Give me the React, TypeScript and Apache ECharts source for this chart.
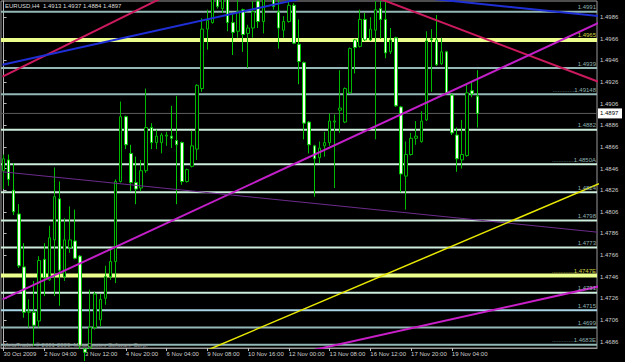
import React, { useEffect, useRef } from "react";
import * as echarts from "echarts";

// ---------- data ----------
const symbolName = "EURUSD,H4";
const timeLabels = [
  "30 Oct 2009", "2 Nov 04:00", "3 Nov 12:00", "4 Nov 20:00", "6 Nov 04:00", "9 Nov 08:00",
  "10 Nov 16:00", "12 Nov 00:00", "13 Nov 08:00", "16 Nov 12:00", "17 Nov 20:00", "19 Nov 04:00",
];
const labelEvery = 8; // bars between time labels
const totalSlots = 117; // bars + chart shift space

const opens = [
  1.4844, 1.4854, 1.4826, 1.4804, 1.4755, 1.4713, 1.4713, 1.4705, 1.4762, 1.4743,
  1.4780, 1.4818, 1.4746, 1.4773, 1.4779, 1.4765, 1.4679, 1.4680, 1.4699, 1.4706,
  1.4726, 1.4746, 1.4760, 1.4834, 1.4894, 1.4860, 1.4833, 1.4828, 1.4844, 1.4884,
  1.4870, 1.4870, 1.4876, 1.4876, 1.4872, 1.4870, 1.4834, 1.4848, 1.4864, 1.4920,
  1.4975, 1.4981, 1.5007, 1.4994, 1.5005, 1.4981, 1.4973, 1.4993, 1.4971, 1.4976,
  1.5001, 1.4982, 1.5004, 1.5008, 1.4991, 1.4974, 1.4982, 1.4997, 1.4961, 1.4944,
  1.4889, 1.4867, 1.4856, 1.4867, 1.4870, 1.4889, 1.4900, 1.4889, 1.4916, 1.4965,
  1.4959, 1.4984, 1.4965, 1.4974, 1.4994, 1.4984, 1.4954, 1.4967, 1.4903, 1.4839,
  1.4859, 1.4874, 1.4871, 1.4891, 1.4965, 1.4965, 1.4943, 1.4954, 1.4914, 1.4877,
  1.4854, 1.4858, 1.4918, 1.4913,
];
const highs = [
  1.4859, 1.4859, 1.4851, 1.4813, 1.4777, 1.4725, 1.4742, 1.4765, 1.4777, 1.4793,
  1.4847, 1.4834, 1.4800, 1.4811, 1.4808, 1.4766, 1.4680, 1.4734, 1.4732, 1.4730,
  1.4756, 1.4771, 1.4836, 1.4908, 1.4895, 1.4868, 1.4857, 1.4854, 1.4920, 1.4888,
  1.4882, 1.4879, 1.4880, 1.4904, 1.4913, 1.4871, 1.4846, 1.4881, 1.4924, 1.4985,
  1.4993, 1.5010, 1.5008, 1.5008, 1.5007, 1.4990, 1.5002, 1.4994, 1.4979, 1.5001,
  1.5005, 1.5008, 1.5012, 1.5010, 1.5002, 1.4987, 1.5002, 1.4999, 1.4984, 1.4945,
  1.4890, 1.4868, 1.4871, 1.4880, 1.4897, 1.4896, 1.4937, 1.4921, 1.4958, 1.4966,
  1.4993, 1.4990, 1.4986, 1.5001, 1.5001, 1.5001, 1.4976, 1.4968, 1.4904, 1.4871,
  1.4879, 1.4890, 1.4899, 1.4973, 1.4975, 1.4988, 1.4967, 1.4955, 1.4915, 1.4884,
  1.4891, 1.4925, 1.4927, 1.4937,
];
const lows = [
  1.4827, 1.4830, 1.4803, 1.4754, 1.4708, 1.4699, 1.4682, 1.4699, 1.4728, 1.4742,
  1.4728, 1.4719, 1.4742, 1.4768, 1.4762, 1.4679, 1.4668, 1.4679, 1.4697, 1.4700,
  1.4720, 1.4743, 1.4740, 1.4833, 1.4864, 1.4825, 1.4813, 1.4825, 1.4842, 1.4864,
  1.4864, 1.4860, 1.4867, 1.4865, 1.4813, 1.4831, 1.4833, 1.4847, 1.4854, 1.4917,
  1.4956, 1.4980, 1.4994, 1.4990, 1.4973, 1.4951, 1.4967, 1.4954, 1.4939, 1.4967,
  1.4976, 1.4971, 1.5003, 1.4993, 1.4957, 1.4967, 1.4981, 1.4961, 1.4924, 1.4873,
  1.4860, 1.4820, 1.4851, 1.4857, 1.4867, 1.4828, 1.4879, 1.4888, 1.4915, 1.4934,
  1.4958, 1.4964, 1.4964, 1.4873, 1.4966, 1.4948, 1.4952, 1.4903, 1.4824, 1.4808,
  1.4858, 1.4868, 1.4870, 1.4890, 1.4917, 1.4941, 1.4942, 1.4915, 1.4877, 1.4843,
  1.4846, 1.4857, 1.4912, 1.4884,
];
const closes = [
  1.4855, 1.4836, 1.4806, 1.4756, 1.4713, 1.4714, 1.4701, 1.4761, 1.4745, 1.4782,
  1.4820, 1.4752, 1.4780, 1.4780, 1.4763, 1.4682, 1.4676, 1.4699, 1.4730, 1.4725,
  1.4746, 1.4760, 1.4834, 1.4894, 1.4868, 1.4833, 1.4827, 1.4844, 1.4884, 1.4870,
  1.4876, 1.4877, 1.4877, 1.4874, 1.4868, 1.4834, 1.4845, 1.4867, 1.4923, 1.4975,
  1.4983, 1.5007, 1.4996, 1.5005, 1.4981, 1.4972, 1.4991, 1.4970, 1.4976, 1.4991,
  1.4982, 1.5004, 1.5009, 1.4996, 1.4976, 1.4982, 1.4997, 1.4962, 1.4945, 1.4888,
  1.4868, 1.4855, 1.4865, 1.4870, 1.4890, 1.4890, 1.4902, 1.4920, 1.4957, 1.4958,
  1.4984, 1.4965, 1.4975, 1.4993, 1.4984, 1.4953, 1.4965, 1.4904, 1.4841, 1.4859,
  1.4874, 1.4876, 1.4890, 1.4964, 1.4966, 1.4942, 1.4954, 1.4916, 1.4879, 1.4855,
  1.4859, 1.4916, 1.4915, 1.4897,
];

const priceTicks = [
  1.4686, 1.4706, 1.4726, 1.4746, 1.4766, 1.4786, 1.4806, 1.4826,
  1.4846, 1.4866, 1.4886, 1.4906, 1.4926, 1.4946, 1.4966, 1.4986,
];
const priceMin = 1.468;
const priceMax = 1.5001;

const levelPrices = [
  1.4991, 1.4965, 1.4939, 1.49148, 1.4882, 1.485, 1.4824,
  1.4798, 1.4773, 1.4747, 1.4731, 1.4715, 1.4699, 1.4683,
];
const levelTexts = [
  "1.4991", "1.4965", "1.4939", ".............1.49148", "1.4882", ".............1.4850A", "1.4824",
  "1.4798", "1.4773", ".............1.4747E", "1.4731", "1.4715", "1.4699", ".............1.4683E",
];
const bidPrice = 1.4897;

// trend lines: [bar index, price] end points
const trendCrimsonA = [[-0.2, 1.4931], [35, 1.5013]];
const trendCrimsonB = [[70, 1.501], [116.9, 1.4926]];
const trendBlueA = [[-0.2, 1.4942], [62, 1.5007]];
const trendBlueB = [[80, 1.5005], [116.9, 1.4987]];
const trendMagentaA = [[-0.2, 1.4725], [116.9, 1.4981]];
const trendMagentaB = [[55, 1.4672], [116.9, 1.4737]];
const trendPurple = [[-0.2, 1.4843], [116.9, 1.4787]];
const trendYellow = [[35, 1.4668], [116.9, 1.4832]];

// ---------- styles ----------
const FONT = '"Liberation Sans", Arial, sans-serif';
const levelKinds = [
  "dim", "yellow", "dim", "dim", "bright", "bright", "bright",
  "bright", "bright", "yellow", "bright", "blue", "dim", "dim",
];
const kindStyle: Record<string, { line: string; width: number; text: string }> = {
  dim: { line: "#93b8b6", width: 2, text: "#8fb0b0" },
  bright: { line: "#cdeedc", width: 2, text: "#8fb0b0" },
  blue: { line: "#a9d6e6", width: 2, text: "#8fb0b0" },
  yellow: { line: "#ecff8c", width: 4, text: "#d0d040" },
};

export default function App() {
  const ref = useRef<HTMLDivElement>(null);

  useEffect(() => {
    document.body.style.margin = "0";
    document.body.style.background = "#000";
    if (!ref.current) return;
    const chart = echarts.init(ref.current, undefined, { renderer: "svg" });

    const categories = Array.from({ length: totalSlots }, (_, i) => String(i));
    const candleData = opens.map((o, i) => [o, closes[i], lows[i], highs[i]]);
    const isLabelIdx = (i: number) => i % labelEvery === 0 && i / labelEvery < timeLabels.length;
    const last = opens.length - 1;
    const header = `${symbolName}  ${opens[last].toFixed(4)} ${highs[last].toFixed(4)} ${lows[last].toFixed(4)} ${closes[last].toFixed(4)}`;
    const xLo = -0.5;
    const xHi = totalSlots - 0.5;

    const trend = (data: number[][], color: string, width: number) => ({
      type: "line",
      xAxisIndex: 1,
      yAxisIndex: 0,
      data,
      symbol: "none",
      silent: true,
      clip: true,
      z: 6,
      lineStyle: { color, width },
    });

    // horizontal level lines as line series across the full width
    const levelSeries = levelPrices.map((p, i) => {
      const s = kindStyle[levelKinds[i]];
      return {
        type: "line",
        xAxisIndex: 1,
        yAxisIndex: 0,
        data: [[xLo, p], [xHi, p]],
        symbol: "none",
        silent: true,
        z: 2,
        lineStyle: { color: s.line, width: s.width },
      };
    });
    const bidSeries = {
      type: "line",
      xAxisIndex: 1,
      yAxisIndex: 0,
      data: [[xLo, bidPrice], [xHi, bidPrice]],
      symbol: "none",
      silent: true,
      z: 2,
      lineStyle: { color: "#5c5c5c", width: 1 },
    };

    // level labels drawn through the axes' scale after layout
    const levelLabelGraphics = () => {
      const items: any[] = [];
      const xEnd = chart.convertToPixel({ xAxisIndex: 1 }, xHi) as number;
      levelPrices.forEach((p, i) => {
        const y = chart.convertToPixel({ yAxisIndex: 0 }, p) as number;
        items.push({
          type: "text",
          x: xEnd - 1,
          y: y - 1.5,
          silent: true,
          z: 50,
          style: {
            text: levelTexts[i],
            fill: kindStyle[levelKinds[i]].text,
            font: `6px ${FONT}`,
            textAlign: "right",
            textVerticalAlign: "bottom",
          },
        });
      });
      const yb = chart.convertToPixel({ yAxisIndex: 0 }, bidPrice) as number;
      items.push({
        type: "rect",
        x: xEnd + 1,
        y: yb - 5,
        silent: true,
        z: 50,
        shape: { width: 24, height: 10 },
        style: { fill: "#ffffff" },
      });
      items.push({
        type: "text",
        x: xEnd + 3,
        y: yb,
        silent: true,
        z: 51,
        style: {
          text: bidPrice.toFixed(4),
          fill: "#000000",
          font: `6px ${FONT}`,
          textAlign: "left",
          textVerticalAlign: "middle",
        },
      });
      return items;
    };

    chart.setOption({
      animation: false,
      backgroundColor: "#000000",
      grid: {
        left: 1,
        right: 28,
        top: 1,
        bottom: 14,
        show: true,
        borderColor: "#9a9a9a",
        borderWidth: 1,
        backgroundColor: "#000",
      },
      xAxis: [
        {
          type: "category",
          data: categories,
          boundaryGap: true,
          axisLine: { show: true, lineStyle: { color: "#9a9a9a", width: 1 } },
          axisTick: {
            show: true,
            alignWithLabel: true,
            interval: (i: number) => isLabelIdx(i),
            length: 3,
            lineStyle: { color: "#c0c0c0" },
          },
          axisLabel: {
            interval: (i: number) => isLabelIdx(i),
            formatter: (_v: string, i: number) => timeLabels[i / labelEvery] ?? "",
            align: "left",
            color: "#cfcfcf",
            fontSize: 6,
            fontFamily: FONT,
            margin: 3,
          },
          splitLine: { show: false },
        },
        {
          type: "value",
          min: xLo,
          max: xHi,
          show: false,
        },
      ],
      yAxis: {
        type: "value",
        position: "right",
        min: priceMin,
        max: priceMax,
        splitLine: { show: false },
        axisLine: { show: true, lineStyle: { color: "#b8b8b8" } },
        axisTick: { show: true, customValues: priceTicks, length: 3, lineStyle: { color: "#b8b8b8" } },
        axisLabel: {
          customValues: priceTicks,
          formatter: (v: number) => v.toFixed(4),
          color: "#cfcfcf",
          fontSize: 6,
          fontFamily: FONT,
          margin: 3,
          padding: [0, 0, 2, 0],
        },
      },
      series: [
        ...levelSeries,
        bidSeries,
        {
          type: "candlestick",
          xAxisIndex: 0,
          yAxisIndex: 0,
          data: candleData,
          barWidth: 3,
          clip: true,
          z: 3,
          itemStyle: {
            color: "#000000",
            color0: "#f4fff0",
            borderColor: "#00b800",
            borderColor0: "#00c800",
            borderColorDoji: "#00b800",
            borderWidth: 1,
          },
        },
        trend(trendCrimsonA, "#cc1a5e", 2),
        trend(trendCrimsonB, "#cc1a5e", 2),
        trend(trendBlueA, "#1f2fd6", 2),
        trend(trendBlueB, "#1f2fd6", 2),
        trend(trendMagentaA, "#c21fc8", 2),
        trend(trendMagentaB, "#c81fc8", 2),
        trend(trendPurple, "#6c2c8c", 1),
        trend(trendYellow, "#e8e800", 1.5),
      ],
    });

    chart.setOption({
      graphic: [
        {
          type: "text",
          left: 5,
          top: 3,
          silent: true,
          z: 100,
          style: { text: header, fill: "#dcdcdc", font: `6px ${FONT}` },
        },
        {
          type: "text",
          left: 3,
          top: 342,
          silent: true,
          z: 100,
          style: { text: "MetaTrader © 2001-2009, MetaQuotes Software Corp.", fill: "#9a9a9a", font: `6px ${FONT}` },
        },
        ...levelLabelGraphics(),
      ],
    });

    return () => chart.dispose();
  }, []);

  return <div ref={ref} style={{ width: 625, height: 362, background: "#000" }} />;
}
